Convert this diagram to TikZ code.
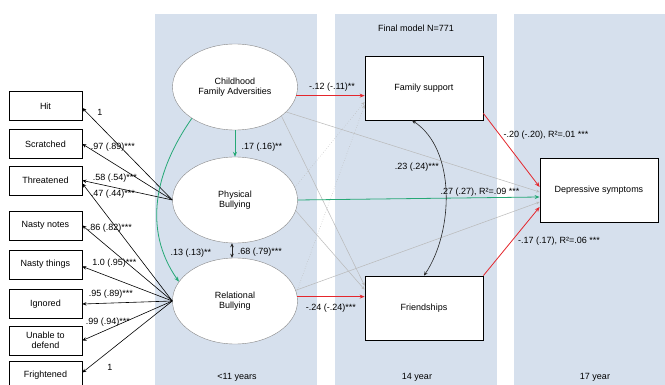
\documentclass[tikz,border=0pt]{standalone}
\usepackage{fontspec}
\setmainfont{Liberation Sans}
\usetikzlibrary{shapes.geometric,arrows.meta,positioning}
\definecolor{panelblue}{RGB}{214,224,237}
\definecolor{pathred}{RGB}{228,38,44}
\definecolor{pathgreen}{RGB}{38,168,118}
\definecolor{ellgray}{RGB}{135,135,135}

\begin{document}
\begin{tikzpicture}[x=1pt, y=-1pt,
    every node/.style={font=\fontsize{9}{10.5}\selectfont},
    itembox/.style={rectangle, draw=black, thick, fill=white,
        minimum width=73pt, minimum height=29pt, align=center, inner sep=1pt},
    varbox/.style={rectangle, draw=black, thick, fill=white,
        minimum width=118pt, minimum height=64pt},
    latent/.style={ellipse, draw=ellgray, fill=white,
        minimum width=125pt, minimum height=86pt, align=center, inner sep=0pt},
    lbl/.style={inner sep=0pt},
    loadarr/.style={-{Stealth[length=4pt,width=3.5pt]}, semithick},
    redarr/.style={-{Stealth[length=5pt,width=4pt]}, thick, pathred},
    greenarr/.style={-{Stealth[length=5pt,width=4pt]}, thick, pathgreen},
    nsarr/.style={-{Stealth[length=3.5pt,width=3pt]}, line width=0.5pt, gray!55},
    corarr/.style={{Stealth[length=4pt,width=3.5pt]}-{Stealth[length=4pt,width=3.5pt]}, semithick, black!85}
]
    \useasboundingbox (0,0) rectangle (665,385);
    \fill[white] (0,0) rectangle (665,385);

    % time panels
    \fill[panelblue] (155,14) rectangle (317,385);
    \fill[panelblue] (335,14) rectangle (497,385);
    \fill[panelblue] (514,14) rectangle (665,385);
    \node (title) at (416,28) {Final model N=771};
    \node (t11) at (237,377) {<11 years};
    \node (t14) at (417,377) {14 year};
    \node (t17) at (595,377) {17 year};

    % latent variables
    \node[latent] (cfa) at (235,87) {Childhood\\Family Adversities};
    \node[latent] (pb) at (235,200) {Physical\\Bullying};
    \node[latent] (rb) at (235,301) {Relational\\Bullying};

    % outcomes
    \node[varbox] (fs) at (424,88) {Family support};
    \node[varbox] (fr) at (424,308) {Friendships};
    \node[varbox] (dep) at (599,190) {Depressive symptoms};

    % bullying items
    \node[itembox] (hit) at (45.5,106) {Hit};
    \node[itembox] (scr) at (45.5,144) {Scratched};
    \node[itembox] (thr) at (45.5,180.5) {Threatened};
    \node[itembox] (nno) at (45.5,225.5) {Nasty notes};
    \node[itembox] (nth) at (45.5,264.5) {Nasty things};
    \node[itembox] (ign) at (45.5,304) {Ignored};
    \node[itembox] (una) at (45.5,340.5) {Unable to\\defend};
    \node[itembox] (fri) at (45.5,375.5) {Frightened};

    % loadings
    \draw[loadarr] (pb.west) -- ([yshift=-2pt]hit.east);
    \draw[loadarr] (pb.west) -- (scr.east);
    \draw[loadarr] (pb.west) -- (thr.east);
    \draw[loadarr] (rb.west) -- ([yshift=-3pt]thr.east);
    \draw[loadarr] (rb.west) -- (nno.east);
    \draw[loadarr] (rb.west) -- ([yshift=-2pt]nth.east);
    \draw[loadarr] (rb.west) -- (ign.east);
    \draw[loadarr] (rb.west) -- (una.east);
    \draw[loadarr] (rb.west) -- ([yshift=3pt]fri.east);
    \node[lbl] (lhit) at (100,112) {1};
    \node[lbl] (lscr) at (113,147) {.97 (.89)***};
    \node[lbl] (lthra) at (115,178) {.58 (.54)***};
    \node[lbl] (lthrb) at (113,194) {.47 (.44)***};
    \node[lbl] (lnno) at (110,228) {.86 (.82)***};
    \node[lbl] (lnth) at (114.5,263) {1.0 (.95)***};
    \node[lbl] (lign) at (111,294) {.95 (.89)***};
    \node[lbl] (luna) at (108,322) {.99 (.94)***};
    \node[lbl] (lfri) at (110,367) {1};

    % non-significant paths
    \draw[nsarr] (cfa.-26) -- ([yshift=-2pt]dep.west);
    \draw[nsarr] (cfa.-32) -- ([yshift=-10pt]fr.north west);
    \draw[nsarr, dotted] (pb.12) -- ([yshift=-14pt]fs.west);
    \draw[nsarr] (pb.-10) -- ([yshift=-14pt]fr.north west);
    \draw[nsarr, dotted] (rb.8) -- ([yshift=-17pt]fs.west);
    \draw[nsarr] (rb.10) -- ([yshift=-12pt]dep.west);

    % significant paths
    \draw[redarr] (cfa.-8) -- (cfa.-8 -| fs.west);
    \node[lbl] (lcfafs) at (332,87) {-.12 (-.11)**};
    \draw[greenarr] (cfa.south) -- (pb.north);
    \node[lbl] (lcfapb) at (262,147) {.17 (.16)**};
    \draw[greenarr] (cfa.216) to[out=235, in=125] (rb.161);
    \node[lbl] (lcfarb) at (191,253) {.13 (.13)**};
    \draw[corarr] ([xshift=-3pt]pb.south) -- ([xshift=-3pt]rb.north);
    \node[lbl] (lpbrb) at (260,252) {.68 (.79)***};
    \draw[greenarr] (pb.east) -- ([yshift=-7pt]dep.west);
    \node[lbl] (lpbdep) at (480,192) {.27 (.27), R²=.09 ***};
    \draw[redarr] (rb.4) -- (rb.4 -| fr.west);
    \node[lbl] (lrbfr) at (331,308) {-.24 (-.24)***};
    \draw[corarr] ([xshift=-12pt]fs.south) to[out=-33, in=56, looseness=0.87] (fr.north);
    \node[lbl] (lfsfr) at (417,167) {.23 (.24)***};
    \draw[redarr] ([yshift=7pt]fs.south east) -- ([yshift=3pt]dep.west);
    \node[lbl] (lfsdep) at (546,135) {-.20 (-.20), R²=.01 ***};
    \draw[redarr] (fr.north east) -- ([yshift=-17pt]dep.west);
    \node[lbl] (lfrdep) at (559,241) {-.17 (.17), R²=.06 ***};
\end{tikzpicture}
\end{document}
